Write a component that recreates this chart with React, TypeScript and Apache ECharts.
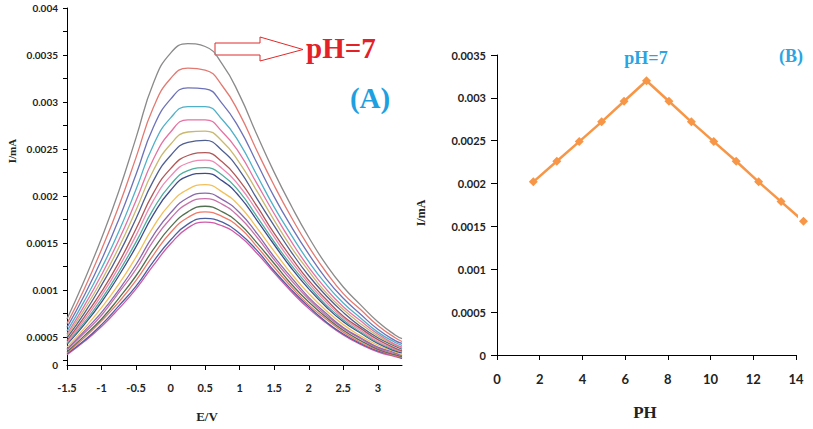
import React, { useEffect, useRef } from "react";
import * as echarts from "echarts";

// ---------- Panel A : voltammograms (current in units of 1e-5 mA) ----------
const potentials = [
  -1.5, -1.25, -1, -0.75, -0.5, -0.25, 0, 0.25, 0.5, 0.75, 1, 1.25, 1.5, 1.75, 2,
  2.25, 2.5, 2.75, 3, 3.25, 3.35,
];

const curvesE5: number[][] = [
  [69, 110, 155, 205, 262, 320, 352, 362, 359, 340, 307, 265, 225, 189, 156, 127, 103, 84, 66, 52, 48],
  [64, 101, 143, 189, 241, 294, 325, 336, 334, 317, 287, 248, 211, 177, 146, 119, 96, 79, 62, 49, 45],
  [60, 94, 132, 175, 223, 273, 303, 315, 314, 298, 271, 235, 199, 167, 138, 112, 91, 74, 58, 46, 43],
  [56, 88, 123, 162, 207, 254, 283, 295, 295, 281, 256, 222, 188, 158, 130, 106, 86, 70, 55, 44, 41],
  [53, 83, 116, 153, 195, 239, 268, 281, 281, 268, 245, 213, 181, 151, 124, 101, 82, 67, 53, 42, 39],
  [51, 79, 110, 145, 185, 227, 255, 268, 269, 258, 235, 205, 174, 145, 120, 97, 79, 64, 51, 41, 38],
  [49, 75, 105, 138, 176, 216, 243, 257, 259, 248, 227, 197, 168, 140, 115, 94, 76, 61, 49, 40, 37],
  [46, 71, 98, 129, 165, 203, 229, 243, 246, 236, 216, 189, 160, 134, 110, 90, 72, 59, 47, 38, 35],
  [44, 68, 94, 124, 158, 195, 221, 235, 238, 229, 210, 184, 156, 130, 107, 87, 70, 57, 45, 37, 34],
  [43, 65, 90, 119, 151, 186, 212, 227, 230, 222, 204, 178, 151, 126, 104, 84, 68, 55, 44, 36, 34],
  [42, 63, 87, 115, 146, 180, 206, 221, 224, 216, 199, 174, 148, 123, 101, 82, 66, 54, 43, 35, 33],
  [39, 59, 81, 106, 135, 167, 192, 207, 212, 204, 189, 166, 141, 117, 96, 78, 63, 51, 41, 34, 31],
  [37, 56, 76, 100, 127, 158, 182, 198, 203, 196, 182, 160, 135, 113, 92, 75, 60, 49, 39, 33, 30],
  [36, 54, 73, 97, 122, 152, 176, 192, 197, 191, 177, 156, 132, 110, 90, 73, 59, 48, 38, 32, 30],
  [34, 51, 69, 91, 115, 143, 167, 183, 189, 183, 170, 150, 128, 106, 87, 71, 57, 46, 37, 31, 29],
  [33, 49, 67, 87, 110, 137, 161, 177, 183, 178, 166, 146, 124, 103, 84, 69, 55, 44, 36, 30, 28],
  [32, 46, 63, 83, 104, 130, 153, 170, 176, 172, 160, 142, 120, 100, 82, 66, 53, 43, 35, 30, 27],
  [31, 45, 61, 80, 101, 126, 149, 166, 172, 168, 157, 139, 118, 98, 80, 65, 52, 42, 34, 29, 27],
];

const curveColors = [
  "#8a8a8a", "#e27a72", "#6d72b8", "#4fb0c8", "#e472a4", "#c8b870",
  "#4f5f90", "#b05858", "#ec8ab4", "#4fae9c", "#3f4c8c", "#f2c05a",
  "#8a6aaa", "#c872aa", "#507050", "#ee7a6a", "#4a5fa0", "#d05aa8",
];

const leftXTicks = [-1.5, -1, -0.5, 0, 0.5, 1, 1.5, 2, 2.5, 3];
const leftYLabels = [0.0002, 0.0005, 0.001, 0.0015, 0.002, 0.0025, 0.003, 0.0035, 0.004];
const leftYTicks = [
  0.00025, 0.0005, 0.00075, 0.001, 0.00125, 0.0015, 0.00175, 0.002, 0.00225,
  0.0025, 0.00275, 0.003, 0.00325, 0.0035, 0.00375, 0.004,
];

// ---------- Panel B : peak current vs pH ----------
const phValues = [1.7, 2.8, 3.85, 4.9, 5.95, 7, 8.05, 9.1, 10.15, 11.2, 12.25, 13.3, 14.35];
const peakCurrents = [
  0.00202, 0.00226, 0.00249, 0.00272, 0.00296, 0.0032, 0.00296, 0.00272,
  0.00249, 0.00226, 0.00202, 0.00179, 0.00156,
];

const labelFont = "Lato, 'Noto Sans', sans-serif";
const serif = "'Liberation Serif', 'DejaVu Serif', serif";

function txt(text: string, x: number, y: number, font: string, fill: string, align = "center", rotation = 0) {
  return {
    type: "text",
    x,
    y,
    rotation,
    style: {
      text,
      fill,
      font,
      textAlign: align,
      textVerticalAlign: "middle",
      align,
      verticalAlign: "middle",
    },
  };
}

export default function App() {
  const ref = useRef<HTMLDivElement>(null);

  useEffect(() => {
    document.body.style.margin = "0";
    const chart = echarts.init(ref.current!, undefined, { renderer: "svg" });

    const leftSeries = curvesE5.map((c, i) => ({
      type: "line",
      xAxisIndex: 0,
      yAxisIndex: 0,
      data: potentials.map((x, j) => [x, c[j] * 1e-5]),
      smooth: 0.5,
      showSymbol: false,
      clip: false,
      lineStyle: { color: curveColors[i], width: 1.3 },
      z: 20 - i,
    }));

    const axisLineStyle = { show: true, onZero: false, lineStyle: { color: "#000", width: 1 } };

    chart.setOption({
      animation: false,
      backgroundColor: "#fff",
      grid: [
        { left: 67, top: 8, width: 335, height: 357 },
        { left: 497, top: 55, width: 299, height: 300 },
      ],
      xAxis: [
        {
          type: "value",
          gridIndex: 0,
          min: -1.5,
          max: 3.35,
          axisLine: axisLineStyle,
          axisTick: { show: true, length: 5, customValues: leftXTicks, lineStyle: { color: "#000" } },
          axisLabel: {
            customValues: leftXTicks,
            margin: 17,
            fontSize: 11,
            fontWeight: "bold",
            fontFamily: labelFont,
            color: "#222",
          },
          splitLine: { show: false },
        },
        {
          type: "value",
          gridIndex: 1,
          min: 0,
          max: 14,
          interval: 2,
          axisLine: axisLineStyle,
          axisTick: { show: true, length: 5, lineStyle: { color: "#000" } },
          axisLabel: {
            margin: 17,
            fontSize: 13,
            fontWeight: "bold",
            fontFamily: labelFont,
            color: "#222",
          },
          splitLine: { show: false },
        },
      ],
      yAxis: [
        {
          type: "value",
          gridIndex: 0,
          min: 0.0002,
          max: 0.004,
          axisLine: axisLineStyle,
          axisTick: { show: true, length: 4, customValues: leftYTicks, lineStyle: { color: "#000" } },
          axisLabel: {
            customValues: leftYLabels,
            formatter: (v: number) => (v < 0.0003 ? "0" : String(v)),
            margin: 9,
            fontSize: 10,
            fontWeight: "bold",
            fontFamily: labelFont,
            color: "#222",
          },
          splitLine: { show: false },
        },
        {
          type: "value",
          gridIndex: 1,
          min: 0,
          max: 0.0035,
          interval: 0.0005,
          axisLine: axisLineStyle,
          axisTick: { show: true, length: 6, lineStyle: { color: "#000" } },
          axisLabel: {
            formatter: (v: number) => String(+v.toFixed(4)),
            margin: 11,
            fontSize: 11,
            fontWeight: "bold",
            fontFamily: labelFont,
            color: "#222",
          },
          splitLine: { show: false },
        },
      ],
      series: [
        ...leftSeries,
        {
          type: "line",
          xAxisIndex: 1,
          yAxisIndex: 1,
          data: phValues.map((p, i) => [p, peakCurrents[i]]),
          clip: false,
          symbol: "diamond",
          symbolSize: 9,
          lineStyle: { color: "#f79646", width: 2.5 },
          itemStyle: { color: "#f79646" },
        },
      ],
      graphic: [
        {
          type: "polygon",
          shape: {
            points: [
              [215, 43], [260, 43], [260, 37], [303, 49.5], [260, 61], [260, 55], [215, 55],
            ],
          },
          style: { fill: "#fff", stroke: "#e02a2a", lineWidth: 1 },
        },
        txt("pH=7", 306, 48, `bold 29px ${serif}`, "#e32228", "left"),
        txt("(A)", 370, 98, `bold 29px ${serif}`, "#1ea0e0"),
        txt("pH=7", 646, 58, `bold 18px ${serif}`, "#2aa4e2"),
        txt("(B)", 791, 56, `bold 18px ${serif}`, "#2aa4e2"),
        txt("I/mA", 12, 151, `bold 11px ${serif}`, "#222", "center", Math.PI / 2),
        txt("I/mA", 421, 213, `bold 12px ${serif}`, "#222", "center", Math.PI / 2),
        txt("E/V", 207, 416, `bold 13px ${serif}`, "#222"),
        txt("PH", 645, 412, `bold 17px ${serif}`, "#222"),
      ],
    });

    return () => chart.dispose();
  }, []);

  return (
    <div
      ref={ref}
      style={{ position: "fixed", left: 0, top: 0, width: 813, height: 429 }}
    />
  );
}
